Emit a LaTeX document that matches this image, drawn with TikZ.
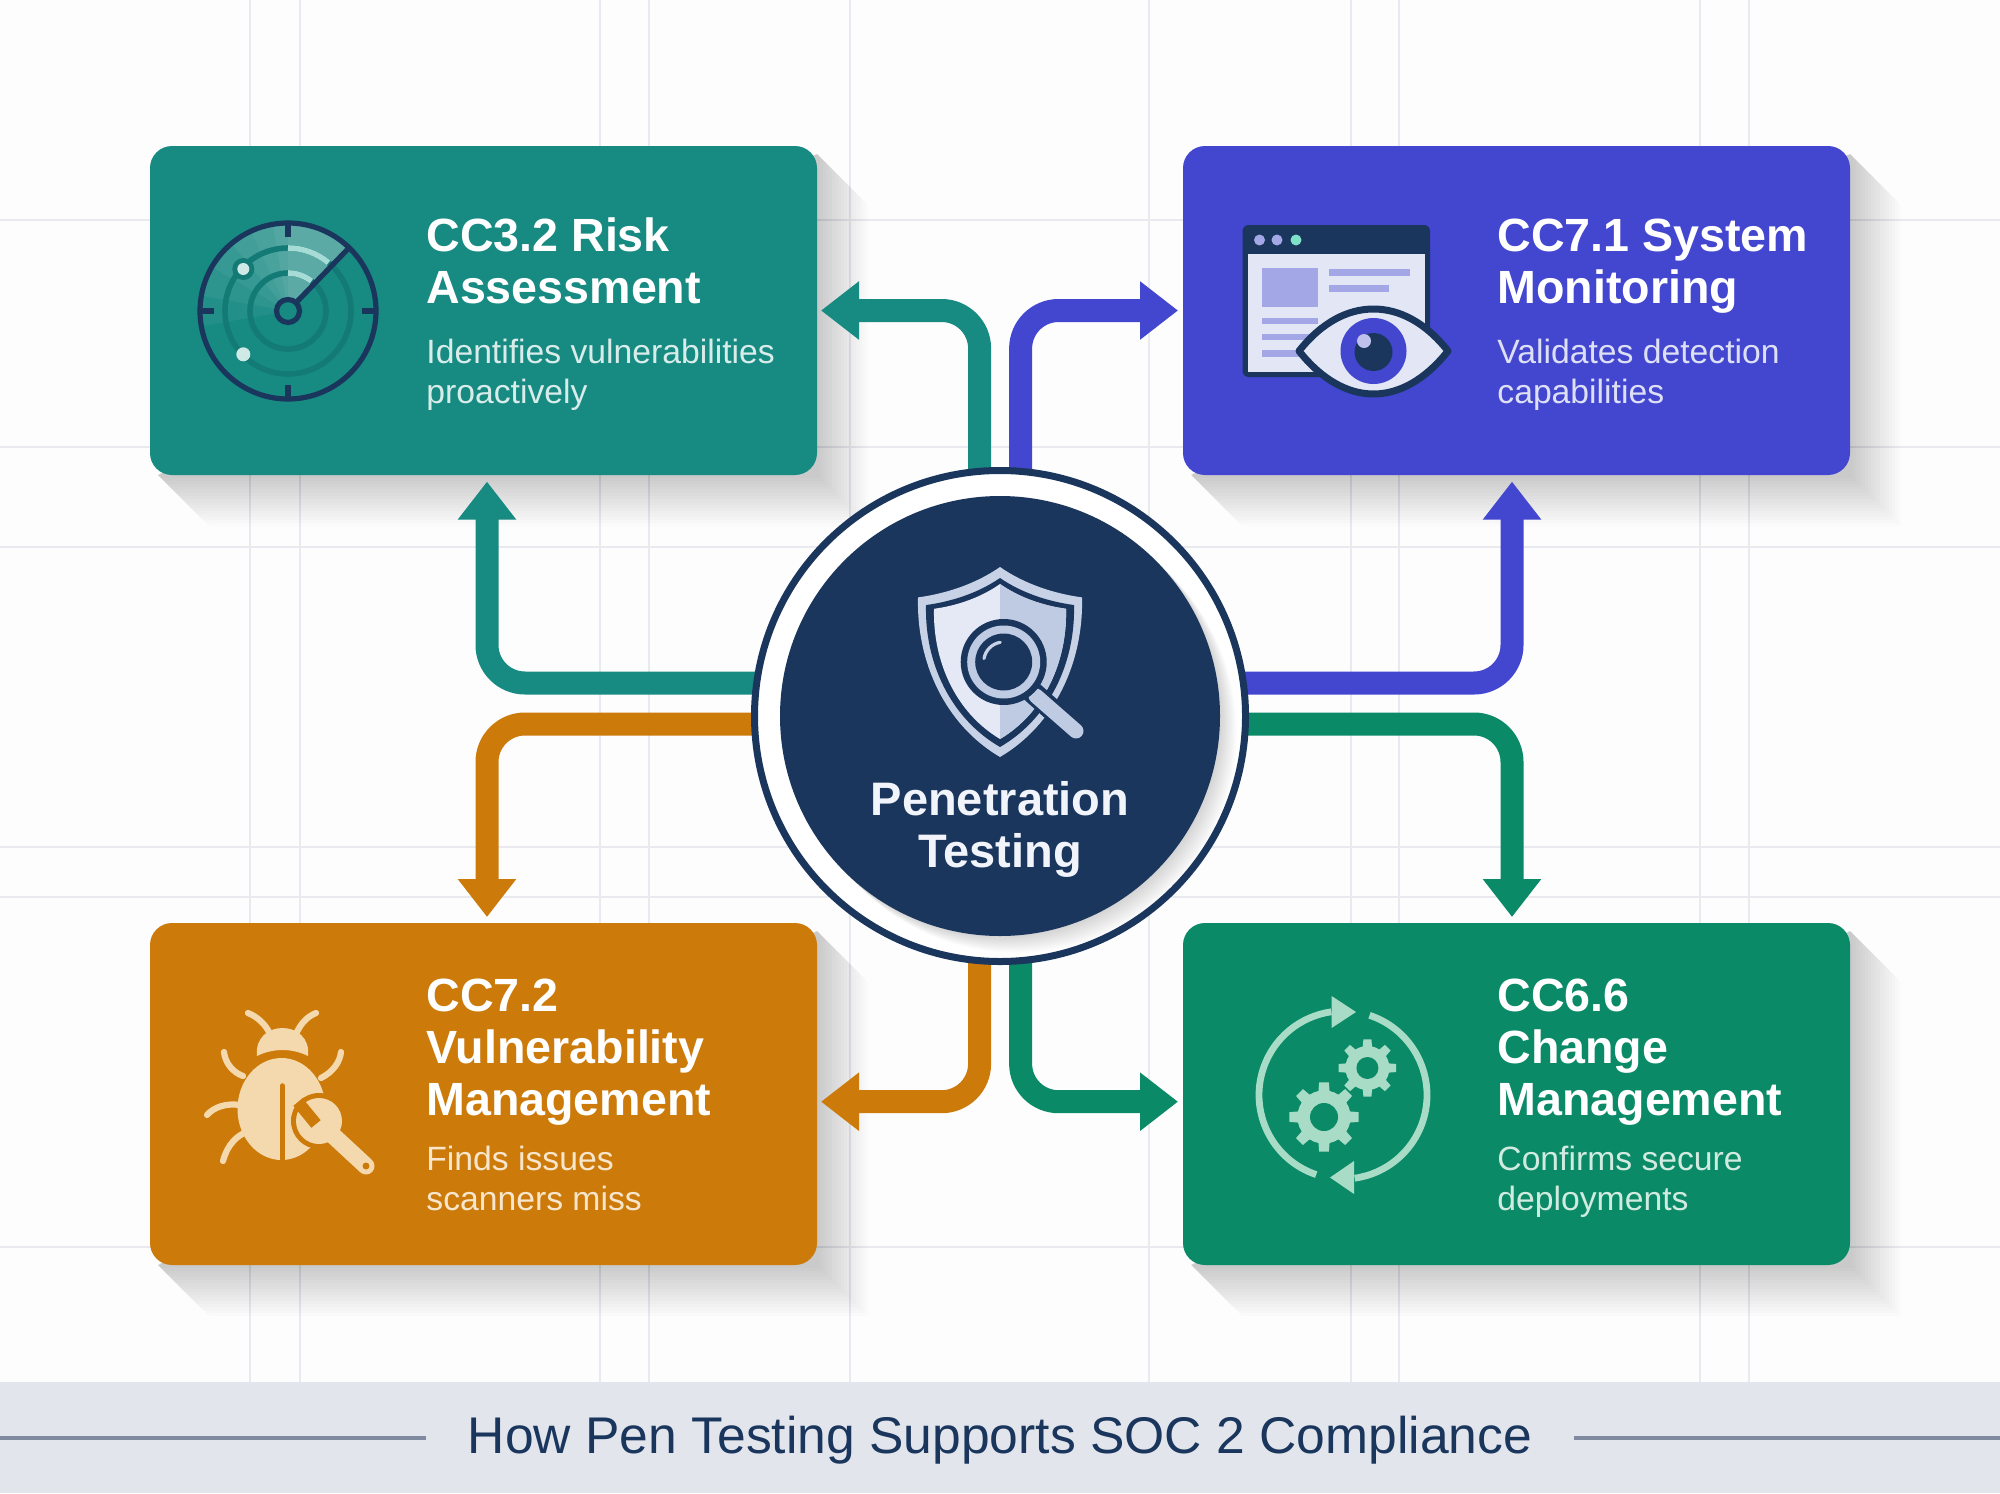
\documentclass[tikz,border=0pt]{standalone}
\usepackage{fontspec}
\setmainfont{Liberation Sans}
\usetikzlibrary{arrows.meta,calc}
\definecolor{bgc}{HTML}{FDFDFE}
\definecolor{gridc}{HTML}{E8EAEF}
\definecolor{bandc}{HTML}{E2E5EC}
\definecolor{rulec}{HTML}{7F8AA0}
\definecolor{navy}{HTML}{1A365D}
\definecolor{tealc}{HTML}{178A82}
\definecolor{tealR}{HTML}{137A76}
\definecolor{tealB}{HTML}{A6DCD5}
\definecolor{tealW}{HTML}{CFEAE6}
\definecolor{purpc}{HTML}{4346CF}
\definecolor{orac}{HTML}{CC7A0A}
\definecolor{greenc}{HTML}{0A8A66}
\definecolor{tealD}{HTML}{D8ECEA}
\definecolor{purpD}{HTML}{DDE0F5}
\definecolor{oraD}{HTML}{F8E6CC}
\definecolor{greenD}{HTML}{D2EBE0}
\definecolor{paleW}{HTML}{E2E6F5}
\definecolor{paleB}{HTML}{A4A7E6}
\definecolor{mintc}{HTML}{7FE0C8}
\definecolor{bugc}{HTML}{F5D9AE}
\definecolor{gearc}{HTML}{A8DCC6}
\definecolor{shL}{HTML}{E4E9F5}
\definecolor{shR}{HTML}{BFCBE3}
\definecolor{shO}{HTML}{C8D2E6}
\tikzset{
  cardbox/.style={rectangle,rounded corners=11pt,minimum width=333.5pt,minimum height=164.5pt,inner sep=0pt,outer sep=0pt,fill=#1},
  cardtitle/.style={anchor=base west,align=left,inner sep=0pt,text=white,font=\fontsize{23.3}{26}\selectfont\bfseries},
  carddesc/.style={anchor=base west,align=left,inner sep=0pt,font=\fontsize{16.85}{19.6}\selectfont},
  conn/.style={draw=#1,line width=11.5pt,rounded corners=19pt,-{Triangle[length=19pt,width=28pt,fill=#1]}},
  gridline/.style={draw=gridc,line width=1pt},
  bugleg/.style={draw=bugc,line width=3.1pt,line cap=round},
}
% soft long shadow of a card: x0 y0 x1 y1
\newcommand{\cardshade}[4]{%
  \foreach \d in {3,6,...,51}{%
    \fill[black,opacity=.010] ({#3},{#2+8}) -- ({#3+\d},{#2+8+\d}) -- ({#3+\d},{#4+\d}) -- ({#1+8+\d},{#4+\d}) -- ({#1+8},{#4}) -- cycle;
  }%
}
% gear: x y R hole colour holecolour
\newcommand{\geardraw}[6]{%
  \begin{scope}[shift={(#1,#2)}]
    \fill[#5] (0,0) circle ({#3*.76});
    \foreach \a in {0,45,...,315}{%
      \fill[#5] (\a-13:{#3*.72}) -- (\a-8:{#3}) -- (\a+8:{#3}) -- (\a+13:{#3*.72}) -- cycle;
    }
    \fill[#6] (0,0) circle (#4);
  \end{scope}%
}
% shield outline: top y, half width, height
\newcommand{\shieldshape}[3]{%
  (1000,#1) .. controls ({1000-#2*.3},{#1+#3*.09}) and ({1000-#2*.66},{#1+#3*.14}) .. ({1000-#2},{#1+#3*.16})
  .. controls ({1000-#2*1.02},{#1+#3*.5}) and ({1000-#2*.67},{#1+#3*.83}) .. (1000,{#1+#3})
  .. controls ({1000+#2*.67},{#1+#3*.83}) and ({1000+#2*1.02},{#1+#3*.5}) .. ({1000+#2},{#1+#3*.16})
  .. controls ({1000+#2*.66},{#1+#3*.14}) and ({1000+#2*.3},{#1+#3*.09}) .. (1000,#1) -- cycle
}
\begin{document}
\begin{tikzpicture}[x=0.5pt,y=-0.5pt]
\useasboundingbox (0,0) rectangle (2000,1493);
\fill[bgc] (0,0) rectangle (2000,1493);
% grid
\foreach \gx in {250,300,600,649,850,1149,1351,1399,1700,1749}{\draw[gridline] (\gx,0) -- (\gx,1382);}
\foreach \gy in {220,447,547,847,897,1247}{\draw[gridline] (0,\gy) -- (2000,\gy);}
% bottom band
\fill[bandc] (0,1382) rectangle (2000,1493);
\draw[draw=rulec,line width=1.6pt] (0,1438) -- (426,1438);
\draw[draw=rulec,line width=1.6pt] (1574,1438) -- (2000,1438);
\node[inner sep=0pt,anchor=base,text=navy,font=\fontsize{25.8}{30}\selectfont] (caption) at (1000,1453) {How Pen Testing Supports SOC 2 Compliance};
% shadows
\cardshade{150}{146}{817}{475}
\cardshade{1183}{146}{1850}{475}
\cardshade{150}{923}{817}{1265}
\cardshade{1183}{923}{1850}{1265}
% cards
\node[cardbox=tealc] (cardA) at (483.5,310.5) {};
\node[cardbox=purpc] (cardB) at (1516.5,310.5) {};
\node[cardbox=orac,minimum height=171pt] (cardC) at (483.5,1094) {};
\node[cardbox=greenc,minimum height=171pt] (cardD) at (1516.5,1094) {};
\coordinate (hubc) at (1000,716);
% connectors
\draw[conn=tealc,shorten >=2pt] ($(hubc)+(-20.4,-200)$) |- (cardA.east);
\draw[conn=purpc,shorten >=2.5pt] ($(hubc)+(20.6,-200)$) |- (cardB.west);
\draw[conn=tealc,shorten >=3.3pt] ($(hubc)+(-200,-33)$) -| ([xshift=1.75pt]cardA.south);
\draw[conn=purpc,shorten >=3.3pt] ($(hubc)+(200,-33)$) -| ([xshift=-2.25pt]cardB.south);
\draw[conn=orac,shorten >=3pt] ($(hubc)+(-200,8)$) -| ([xshift=1.75pt]cardC.north);
\draw[conn=greenc,shorten >=3pt] ($(hubc)+(200,8)$) -| ([xshift=-2.25pt]cardD.north);
\draw[conn=orac,shorten >=2pt] ($(hubc)+(-20.4,200)$) |- ([yshift=-3.85pt]cardC.east);
\draw[conn=greenc,shorten >=2.5pt] ($(hubc)+(20.6,200)$) |- ([yshift=-3.85pt]cardD.west);
% hub
\node[circle,draw=navy,fill=white,line width=3.5pt,minimum size=245.5pt,inner sep=0pt,outer sep=0pt] (hub) at (hubc) {};
\begin{scope}
  \clip (1000,716) circle (242);
  \foreach \d in {1,2,...,14}{\fill[black,opacity=.012] ({1000+\d*1.2},{716+\d*1.2}) circle (220);}
\end{scope}
\fill[navy] (1000,716) circle (220);
% shield
\fill[shO] \shieldshape{567}{82}{190};
\fill[navy] \shieldshape{578}{74}{169};
\fill[shL] \shieldshape{584}{66}{155};
\begin{scope}
  \clip (1000,560) rectangle (1100,760);
  \fill[shR] \shieldshape{584}{66}{155};
\end{scope}
% magnifier
\draw[navy,line width=11pt,line cap=round] (1030,690) -- (1076,731);
\draw[shR,line width=7.5pt,line cap=round] (1036,696) -- (1076,731);
\fill[navy] (1003.7,662) circle (43);
\fill[shR] (1003.7,662) circle (36.5);
\fill[navy] (1003.7,662) circle (28.5);
\draw[shO,line width=1.6pt,line cap=round] (1003.7,662) ++(-100:20) arc[start angle=-100,end angle=-170,radius=20];
\node[inner sep=0pt,anchor=base,align=center,text=shL!50!white,font=\fontsize{23.5}{26}\selectfont\bfseries] (hubtext) at (1000,867) {Penetration\\Testing};
% === radar icon
\begin{scope}
  \clip (288,311) circle (88);
  \foreach \e in {-190,-170,-150,-130,-115,-100,-90}{%
    \fill[white,opacity=.05] (288,311) -- ++(-46:95) arc[start angle=-46,end angle=\e,radius=95] -- cycle;
  }
\end{scope}
\draw[tealR,line width=2.8pt] (288,311) circle (63);
\draw[tealR,line width=2.8pt] (288,311) circle (38);
\draw[tealB,line width=2.8pt] (288,311) ++(-90:63) arc[start angle=-90,end angle=-50,radius=63];
\draw[tealB,line width=2.8pt] (288,311) ++(-90:38) arc[start angle=-90,end angle=-52,radius=38];
\draw[navy,line width=2.6pt] (288,311) circle (88);
\foreach \a in {0,90,180,270}{\draw[navy,line width=2.6pt] (288,311) ++(\a:88) -- ++(\a:-14);}
\draw[navy,line width=2.6pt] (288,311) -- ++(-46:88);
\fill[tealc,draw=navy,line width=2.6pt] (288,311) circle (11.5);
\fill[tealR] (243.3,269) circle (11);
\fill[tealW] (243.3,269) circle (6);
\fill[tealW] (243.3,354.3) circle (7);
% === browser / eye icon
\fill[navy,rounded corners=3pt] (1242.5,225) rectangle (1430,377);
\fill[paleW] (1248,254) rectangle (1425,372);
\fill[paleB] (1259.5,240) circle (5.5);
\fill[paleB] (1277,240) circle (5.5);
\fill[mintc] (1296,240) circle (5.5);
\fill[paleB] (1262,268) rectangle (1318,307);
\fill[paleB] (1329,269) rectangle (1410,276);
\fill[paleB] (1329,285) rectangle (1389,292);
\fill[paleB] (1262,318) rectangle (1318,324);
\fill[paleB] (1262,334) rectangle (1318,340);
\fill[paleB] (1262,350) rectangle (1318,357);
\fill[paleW,draw=navy,line width=3.5pt,line join=round] (1299,351) .. controls (1322,322) and (1348,309) .. (1373.5,309) .. controls (1399,309) and (1425,322) .. (1448,351) .. controls (1425,380) and (1399,394) .. (1373.5,394) .. controls (1348,394) and (1322,380) .. (1299,351) -- cycle;
\fill[purpc] (1373.5,351) circle (33);
\fill[navy] (1373.5,352) circle (19);
\fill[paleB!70!white] (1364,341) circle (7);
% === bug icon
\fill[bugc] (281.5,1109) ellipse (44 and 51);
\fill[bugc] (257,1056) .. controls (255,1038) and (268,1028) .. (282.5,1028) .. controls (297,1028) and (310,1038) .. (308,1056) .. controls (292,1048) and (273,1048) .. (257,1056) -- cycle;
\draw[bugleg] (270,1034) .. controls (266,1025) and (258,1017) .. (248,1013);
\draw[bugleg] (296,1034) .. controls (300,1025) and (306,1017) .. (316,1013);
\draw[bugleg] (243,1076) .. controls (232,1072) and (225,1062) .. (224,1052);
\draw[bugleg] (321,1078) .. controls (333,1072) and (340,1062) .. (341,1052);
\draw[bugleg] (240,1105) .. controls (226,1103) and (214,1107) .. (207,1115);
\draw[bugleg] (244,1133) .. controls (232,1139) and (226,1150) .. (223,1161);
\draw[orac,line width=2.8pt,line cap=round] (282.3,1086) -- (282.3,1162);
% wrench
\draw[orac,line width=12pt,line cap=round] (325,1128) -- (366,1166);
\fill[orac] (319,1121) circle (28);
\fill[bugc] (319,1121) circle (23);
\draw[bugc,line width=8.5pt,line cap=round] (325,1128) -- (366,1166);
\draw[orac,line width=6pt] (316,1124) -- (298,1102);
\fill[orac] (366,1166) circle (3.5);
% === gears icon
\draw[gearc,line width=3.4pt] (1343,1095) ++(108.6:84) arc[start angle=108.6,end angle=262,radius=84];
\fill[gearc] (1356,1012) -- (1331.6,996) -- (1331.6,1028) -- cycle;
\draw[gearc,line width=3.4pt] (1343,1095) ++(-71.6:84) arc[start angle=-71.6,end angle=82,radius=84];
\fill[gearc] (1330,1177.5) -- (1354,1161) -- (1354,1194) -- cycle;
\geardraw{1324}{1117}{35}{14}{gearc}{greenc}
\geardraw{1367.4}{1068}{29}{11}{gearc}{greenc}
% texts
\node[cardtitle] (ta) at (426,303.5) {CC3.2 Risk\\Assessment};
\node[carddesc,text=tealD] (da) at (426,403) {Identifies vulnerabilities\\proactively};
\node[cardtitle] (tb) at (1497,303.5) {CC7.1 System\\Monitoring};
\node[carddesc,text=purpD] (db) at (1497,403) {Validates detection\\capabilities};
\node[cardtitle] (tc) at (426,1115) {CC7.2\\Vulnerability\\Management};
\node[carddesc,text=oraD] (dc) at (426,1210) {Finds issues\\scanners miss};
\node[cardtitle] (td) at (1497,1115) {CC6.6\\Change\\Management};
\node[carddesc,text=greenD] (dd) at (1497,1210) {Confirms secure\\deployments};
\end{tikzpicture}
\end{document}
